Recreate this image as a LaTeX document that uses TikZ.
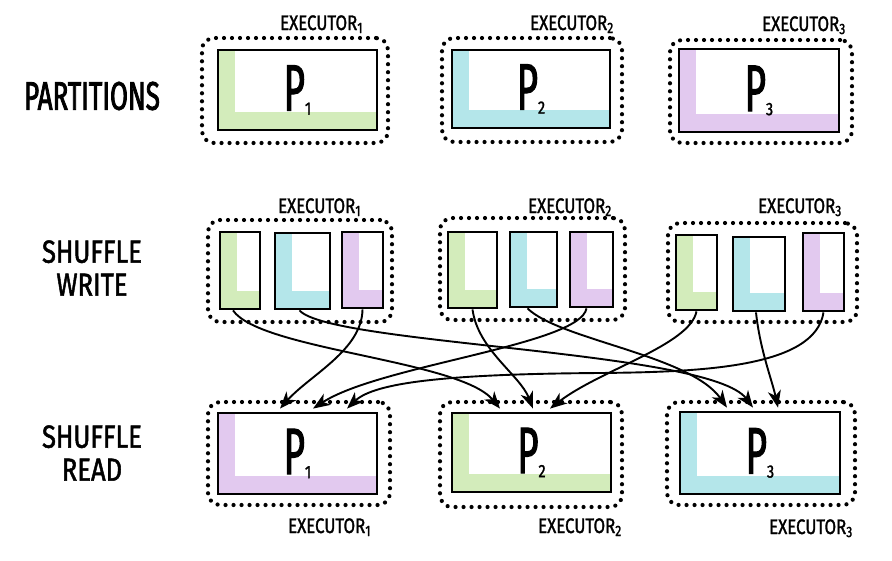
\documentclass[tikz,border=0pt]{standalone}
\usepackage{fontspec}
\usetikzlibrary{arrows.meta}
\newfontfamily\handA[FakeStretch=0.65,FakeBold=2]{Fira Sans}
\newfontfamily\handB[FakeStretch=0.8,FakeBold=1.5]{Fira Sans}
\newfontfamily\handP[FakeStretch=0.55,FakeBold=1.5]{Fira Sans}
\definecolor{pgreen}{HTML}{D3ECBB}
\definecolor{pcyan}{HTML}{B4E6EA}
\definecolor{ppurple}{HTML}{E2C9EF}
\newcommand{\psub}[1]{\raisebox{-4pt}{\handB\fontsize{18}{18}\selectfont #1}}
\newcommand{\exsub}[1]{\raisebox{-3pt}{\fontsize{15}{15}\selectfont #1}}
\tikzset{
  execbox/.style={draw, line width=4.2pt, dash pattern=on 0pt off 8pt, line cap=round,
    rounded corners=12pt, inner sep=0pt},
  part/.style={draw, line width=2.8pt, inner sep=0pt, font=\handP\fontsize{66}{66}\selectfont,
    path picture={
      \fill[#1] (path picture bounding box.north west) rectangle ([xshift=17pt]path picture bounding box.south west);
      \fill[#1] ([yshift=18pt]path picture bounding box.south west) rectangle (path picture bounding box.south east);}},
  flow/.style={line width=1.9pt, -{Stealth[length=17pt,width=13pt,inset=5pt]}},
  exlabel/.style={anchor=base west, inner sep=0pt, font=\handB\fontsize{21}{21}\selectfont},
  rowlabel/.style={align=center, inner sep=0pt, font=\handB\fontsize{32}{33}\selectfont},
}
\begin{document}
\begin{tikzpicture}[x=1pt,y=-1pt]
\useasboundingbox (0,0) rectangle (892,560);

% row labels
\node[rowlabel, font=\handA\fontsize{40}{40}\selectfont] (lpart) at (92,96) {PARTITIONS};
\node[rowlabel] (lwrite) at (92,268) {SHUFFLE\\WRITE};
\node[rowlabel] (lread) at (92,453) {SHUFFLE\\READ};

% ---------- top row ----------
\node[execbox, minimum width=186pt, minimum height=105pt] (e1t) at (295,90.5) {};
\node[execbox, minimum width=180pt, minimum height=104pt] (e2t) at (532,90) {};
\node[execbox, minimum width=182pt, minimum height=103pt] (e3t) at (761,91.5) {};
\node[part=pgreen, minimum width=159pt, minimum height=80pt] (t1) at (297.5,90) {P\psub{1}\hspace{8pt}};
\node[part=pcyan, minimum width=158pt, minimum height=78pt] (t2) at (531,89) {P\psub{2}\hspace{6pt}};
\node[part=ppurple, minimum width=160pt, minimum height=83pt] (t3) at (759,90.5) {P\psub{3}\hspace{6pt}};
\node[exlabel] (x1t) at (280,30) {EXECUTOR\exsub{1}};
\node[exlabel] (x2t) at (530,30) {EXECUTOR\exsub{2}};
\node[exlabel] (x3t) at (762,31) {EXECUTOR\exsub{3}};

% ---------- shuffle write ----------
\node[execbox, minimum width=184pt, minimum height=102pt] (e1w) at (300,271) {};
\node[execbox, minimum width=185pt, minimum height=102pt] (e2w) at (532.5,269) {};
\node[execbox, minimum width=189pt, minimum height=99pt] (e3w) at (762.5,272.5) {};
\node[part=pgreen, minimum width=40pt, minimum height=77pt] (w1g) at (240,270.5) {};
\node[part=pcyan, minimum width=55pt, minimum height=76pt] (w1c) at (302.5,271) {};
\node[part=ppurple, minimum width=41pt, minimum height=76pt] (w1p) at (362.5,270) {};
\node[part=pgreen, minimum width=49pt, minimum height=76pt] (w2g) at (472.5,270) {};
\node[part=pcyan, minimum width=47pt, minimum height=75pt] (w2c) at (533.5,269.5) {};
\node[part=ppurple, minimum width=43pt, minimum height=75pt] (w2p) at (591.5,269.5) {};
\node[part=pgreen, minimum width=41pt, minimum height=75pt] (w3g) at (696.5,272.5) {};
\node[part=pcyan, minimum width=52pt, minimum height=74pt] (w3c) at (759,274) {};
\node[part=ppurple, minimum width=41pt, minimum height=78pt] (w3p) at (823.5,272) {};
\node[exlabel] (x1w) at (278,213) {EXECUTOR\exsub{1}};
\node[exlabel] (x2w) at (528,213) {EXECUTOR\exsub{2}};
\node[exlabel] (x3w) at (758,213) {EXECUTOR\exsub{3}};

% ---------- shuffle read ----------
\node[execbox, minimum width=182pt, minimum height=103pt] (e1r) at (299,453.5) {};
\node[execbox, minimum width=182pt, minimum height=105pt] (e2r) at (531,454.5) {};
\node[execbox, minimum width=188pt, minimum height=103pt] (e3r) at (761,453.5) {};
\node[part=ppurple, minimum width=159pt, minimum height=81pt] (r1) at (297.5,453.5) {P\psub{1}\hspace{14pt}};
\node[part=pgreen, minimum width=159pt, minimum height=79pt] (r2) at (531.5,452.5) {P\psub{2}\hspace{16pt}};
\node[part=pcyan, minimum width=160pt, minimum height=82pt] (r3) at (760,453) {P\psub{3}\hspace{6pt}};
\node[exlabel] (x1r) at (288,533) {EXECUTOR\exsub{1}};
\node[exlabel] (x2r) at (538,533) {EXECUTOR\exsub{2}};
\node[exlabel] (x3r) at (769,534) {EXECUTOR\exsub{3}};

% ---------- connectors ----------
\draw[flow] ([xshift=-7pt]w1g.south) .. controls (260,350) and (460,360) .. ([xshift=-31.5pt,yshift=3pt]r2.north);
\draw[flow] ([xshift=-3pt]w1c.south) .. controls (330,345) and (710,350) .. ([xshift=-7pt,yshift=3pt]r3.north);
\draw[flow] (w1p.south) .. controls (362,350) and (310,375) .. ([xshift=-17.5pt,yshift=3pt]r1.north);
\draw[flow] (w2g.south) .. controls (478,350) and (520,375) .. ([xshift=1.5pt,yshift=3pt]r2.north);
\draw[flow] ([xshift=-6pt]w2c.south) .. controls (560,340) and (690,355) .. ([xshift=-33pt,yshift=3pt]r3.north);
\draw[flow] ([xshift=-5pt]w2p.south) .. controls (580,345) and (380,365) .. ([xshift=15.5pt,yshift=3pt]r1.north);
\draw[flow] (w3g.south) .. controls (690,345) and (600,370) .. ([xshift=18.5pt,yshift=3pt]r2.north);
\draw[flow] ([xshift=-3pt]w3c.south) .. controls (760,350) and (772,380) .. ([xshift=18pt,yshift=3pt]r3.north);
\draw[flow] (w3p.south) .. controls (815,368) and (700,372) .. (600,373)
  .. controls (450,374) and (375,382) .. ([xshift=49.5pt,yshift=3pt]r1.north);
\end{tikzpicture}
\end{document}
